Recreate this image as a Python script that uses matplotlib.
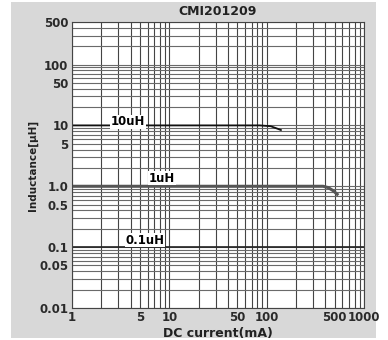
import matplotlib.pyplot as plt
from matplotlib.patches import Rectangle
from matplotlib.ticker import FixedLocator, NullFormatter, LogLocator

plt.rcParams['font.family'] = ['DejaVu Sans']
plt.rcParams['font.weight'] = 'bold'

# inductance vs DC current curves (mA, uH)
current_10uH = [1, 85, 110, 125, 140]
ind_10uH = [10, 10, 9.7, 9.0, 8.4]

current_1uH = [1, 380, 430, 480, 530]
ind_1uH = [1.0, 1.0, 0.95, 0.85, 0.74]

current_01uH = [1, 1000]
ind_01uH = [0.1, 0.1]

x_ticks = [1, 5, 10, 50, 100, 500, 1000]
x_labels = ['1', '5', '10', '50', '100', '500', '1000']
y_ticks = [0.01, 0.05, 0.1, 0.5, 1.0, 5, 10, 50, 100, 500]
y_labels = ['0.01', '0.05', '0.1', '0.5', '1.0', '5', '10', '50', '100', '500']

fig = plt.figure(figsize=(3.88, 3.40), dpi=100)
fig.patch.set_facecolor('white')
# grey panel behind the chart
fig.patches.append(Rectangle((11 / 388, 2 / 340), 365 / 388, 336 / 340,
                             transform=fig.transFigure, facecolor='#d8d8d8',
                             edgecolor='none', zorder=-10))

ax = fig.add_axes([72 / 388, 32 / 340, 292 / 388, 286 / 340])
ax.set_facecolor('white')
ax.set_xscale('log')
ax.set_yscale('log')
ax.set_xlim(1, 1000)
ax.set_ylim(0.01, 500)

ax.xaxis.set_major_locator(FixedLocator(x_ticks))
ax.set_xticklabels(x_labels)
ax.yaxis.set_major_locator(FixedLocator(y_ticks))
ax.set_yticklabels(y_labels)
ax.xaxis.set_minor_locator(LogLocator(base=10, subs=range(1, 10), numticks=20))
ax.yaxis.set_minor_locator(LogLocator(base=10, subs=range(1, 10), numticks=20))
ax.xaxis.set_minor_formatter(NullFormatter())
ax.yaxis.set_minor_formatter(NullFormatter())
ax.tick_params(which='both', length=0, labelsize=8.5, colors='#2a2a2a', pad=2.5)

ax.grid(True, which='both', axis='x', color='#444444', lw=0.8)
ax.grid(True, which='both', axis='y', color='#6a6a6a', lw=0.8)
ax.set_axisbelow(True)
for s in ax.spines.values():
    s.set_color('#444444')
    s.set_linewidth(0.8)

ax.plot(current_10uH, ind_10uH, color='#111111', lw=1.3)
ax.plot(current_1uH, ind_1uH, color='#555555', lw=2.2)
ax.plot(current_01uH, ind_01uH, color='#222222', lw=1.2)

box = dict(facecolor='white', edgecolor='none', pad=0.3)
ax.text(3.76, 11.5, '10uH', fontsize=8.5, ha='center', va='center', bbox=box)
ax.text(8.4, 1.35, '1uH', fontsize=8.5, ha='center', va='center', bbox=box)
ax.text(5.6, 0.13, '0.1uH', fontsize=8.5, ha='center', va='center', bbox=box)

ax.set_title('CMI201209', fontsize=9, fontweight='bold', pad=5, color='#222222')
ax.set_xlabel('DC current(mA)', fontsize=9, fontweight='bold', labelpad=2,
              color='#222222')
ax.set_ylabel('Inductance[\u00b5H]', fontsize=7.5, fontweight='bold', labelpad=1,
              color='#222222')

fig.savefig('out.png', dpi=100)
